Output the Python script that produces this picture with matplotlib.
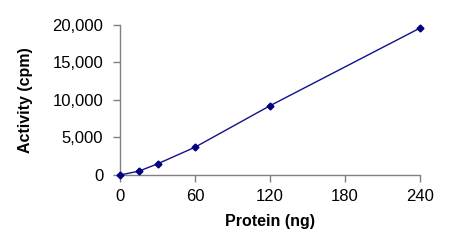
import matplotlib
matplotlib.use("Agg")
import matplotlib.pyplot as plt
import matplotlib.ticker as mticker

protein_ng = [0, 15, 30, 60, 120, 240]
activity_cpm = [0, 500, 1480, 3700, 9230, 19580]

x_ticks = [0, 60, 120, 180, 240]
y_ticks = [0, 5000, 10000, 15000, 20000]

plt.rcParams["font.family"] = ["Liberation Sans", "DejaVu Sans"]

fig = plt.figure(figsize=(4.53, 2.40), dpi=100)
ax = fig.add_axes([0.265, 0.271, 0.662, 0.625])

ax.plot(protein_ng, activity_cpm, color="#10108a", lw=1.0,
        marker="D", ms=3.5, mfc="#000080", mec="#000080", clip_on=False, zorder=3)

ax.set_xlim(0, 240)
ax.set_ylim(0, 20000)
ax.set_xticks(x_ticks)
ax.set_yticks(y_ticks)
ax.yaxis.set_major_formatter(mticker.StrMethodFormatter("{x:,.0f}"))

for side in ("top", "right"):
    ax.spines[side].set_visible(False)
for side in ("left", "bottom"):
    ax.spines[side].set_color("#808080")
    ax.spines[side].set_linewidth(1.0)

ax.tick_params(axis="both", direction="out", length=5, width=1.0,
               color="#808080", labelsize=12, labelcolor="black")
ax.tick_params(axis="x", pad=5)
ax.tick_params(axis="y", pad=7)

ax.set_xlabel("Protein (ng)", fontsize=11.5, fontweight="bold", labelpad=7)
ax.set_ylabel("Activity (cpm)", fontsize=11.5, fontweight="bold", labelpad=14)

fig.savefig("out.png", dpi=100)
